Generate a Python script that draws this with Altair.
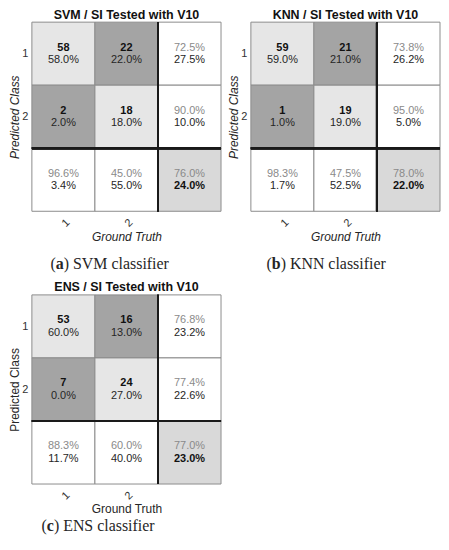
import altair as alt
import pandas as pd

classes = ["1", "2"]
titles = ["SVM / SI Tested with V10", "KNN / SI Tested with V10", "ENS / SI Tested with V10"]
captions = [("a", ") SVM classifier"), ("b", ") KNN classifier"), ("c", ") ENS classifier")]

svm_counts = [[58, 22], [2, 18]]
svm_pcts = [[58.0, 22.0], [2.0, 18.0]]
svm_rows = [[72.5, 27.5], [90.0, 10.0]]
svm_cols = [[96.6, 3.4], [45.0, 55.0]]
svm_total = [76.0, 24.0]

knn_counts = [[59, 21], [1, 19]]
knn_pcts = [[59.0, 21.0], [1.0, 19.0]]
knn_rows = [[73.8, 26.2], [95.0, 5.0]]
knn_cols = [[98.3, 1.7], [47.5, 52.5]]
knn_total = [78.0, 22.0]

ens_counts = [[53, 16], [7, 24]]
ens_pcts = [[60.0, 13.0], [0.0, 27.0]]
ens_rows = [[76.8, 23.2], [77.4, 22.6]]
ens_cols = [[88.3, 11.7], [60.0, 40.0]]
ens_total = [77.0, 23.0]

LIGHT = "#e6e6e6"
DARK = "#a4a4a4"
TOTAL = "#d9d9d9"
GRID = "#8c8c8c"
TXT = "#262626"
GRAY = "#8a8a8a"
SANS = "Liberation Sans"
SERIF = "Liberation Serif"
W = 190


def fmt(v):
    return f"{v:.1f}%"


def panel(title, counts, pcts, rows, cols, total, italic, cap, cap_x, cap_y, cap_w):
    n = len(classes)
    cells, texts = [], []
    for r in range(n):
        for c in range(n):
            cells.append(dict(row=r, col=c, fill=LIGHT if r == c else DARK))
            texts.append(dict(row=r, col=c, line=0, text=str(counts[r][c]), style="bd"))
            texts.append(dict(row=r, col=c, line=1, text=fmt(pcts[r][c]), style="nd"))
        cells.append(dict(row=r, col=n, fill="#ffffff"))
        texts.append(dict(row=r, col=n, line=0, text=fmt(rows[r][0]), style="ng"))
        texts.append(dict(row=r, col=n, line=1, text=fmt(rows[r][1]), style="nd"))
    for c in range(n):
        cells.append(dict(row=n, col=c, fill="#ffffff"))
        texts.append(dict(row=n, col=c, line=0, text=fmt(cols[c][0]), style="ng"))
        texts.append(dict(row=n, col=c, line=1, text=fmt(cols[c][1]), style="nd"))
    cells.append(dict(row=n, col=n, fill=TOTAL))
    texts.append(dict(row=n, col=n, line=0, text=fmt(total[0]), style="ng"))
    texts.append(dict(row=n, col=n, line=1, text=fmt(total[1]), style="bd"))

    cdf = pd.DataFrame(cells)
    tdf = pd.DataFrame(texts)
    fstyle = "italic" if italic else "normal"
    label_expr = " : ".join(
        f"datum.value == {i + 0.5} ? '{cl}'" for i, cl in enumerate(classes)
    ) + " : ''"
    xs = alt.Scale(domain=[0, n + 1], nice=False, zero=False)
    ys = alt.Scale(domain=[0, n + 1], nice=False, zero=False, reverse=True)
    xaxis = alt.Axis(values=[i + 0.5 for i in range(n)], labelExpr=label_expr,
                     title="Ground Truth", ticks=False, domain=False, grid=False,
                     labelAngle=315, labelFontSize=11, labelColor="#333333",
                     labelPadding=5, titleFontSize=12, titleFontWeight="normal",
                     titleFontStyle=fstyle, titleColor=TXT, titlePadding=3,
                     labelFont=SANS, titleFont=SANS)
    yaxis = alt.Axis(values=[i + 0.5 for i in range(n)], labelExpr=label_expr,
                     title="Predicted Class", ticks=False, domain=False, grid=False,
                     labelAngle=0, labelFontSize=11, labelColor="#333333",
                     labelPadding=4, titleFontSize=12, titleFontWeight="normal",
                     titleFontStyle=fstyle, titleColor=TXT, titlePadding=0,
                     labelFont=SANS, titleFont=SANS)

    rect = alt.Chart(cdf).transform_calculate(
        c1="datum.col + 1", r1="datum.row + 1"
    ).mark_rect(stroke=GRID, strokeWidth=1).encode(
        x=alt.X("col:Q", scale=xs, axis=xaxis),
        x2="c1:Q",
        y=alt.Y("row:Q", scale=ys, axis=yaxis),
        y2="r1:Q",
        color=alt.Color("fill:N", scale=None),
    )
    vrule = alt.Chart(cdf).mark_rule(color="#1a1a1a", strokeWidth=2).encode(x=alt.datum(n))
    hrule = alt.Chart(cdf).mark_rule(color="#1a1a1a", strokeWidth=2).encode(y=alt.datum(n))

    base_t = alt.Chart(tdf).transform_calculate(
        tx="datum.col + 0.5",
        ty="datum.row + 0.5 + (datum.line == 0 ? -0.095 : 0.1)",
    )
    layers = [rect, vrule, hrule]
    for style, weight, color in [("bd", "bold", "#111111"), ("nd", "normal", TXT), ("ng", "normal", GRAY)]:
        layers.append(
            base_t.transform_filter(f"datum.style == '{style}'").mark_text(
                font=SANS, fontSize=11, fontWeight=weight, color=color, baseline="middle"
            ).encode(x="tx:Q", y="ty:Q", text="text:N")
        )
    one = alt.Data(values=[{"k": 1}])
    layers.append(alt.Chart(one).mark_text(text="(", font=SERIF, fontSize=16, align="right",
                                           baseline="middle", color=TXT)
                  .encode(x=alt.value(cap_x), y=alt.value(cap_y)))
    layers.append(alt.Chart(one).mark_text(text=cap[0], font=SERIF, fontSize=16, align="left",
                                           fontWeight="bold", baseline="middle", color=TXT)
                  .encode(x=alt.value(cap_x), y=alt.value(cap_y)))
    layers.append(alt.Chart(one).mark_text(text=cap[1], font=SERIF, fontSize=16, align="left",
                                           baseline="middle", color=TXT)
                  .encode(x=alt.value(cap_x + cap_w), y=alt.value(cap_y)))

    return alt.layer(*layers).properties(
        width=W, height=W,
        title=alt.TitleParams(title, font=SANS, fontSize=12.5, fontWeight="bold",
                              color="#111111", offset=0),
    )


a = panel(titles[0], svm_counts, svm_pcts, svm_rows, svm_cols, svm_total, True,
          captions[0], 24, 243, 8)
b = panel(titles[1], knn_counts, knn_pcts, knn_rows, knn_cols, knn_total, True,
          captions[1], 21, 243, 8.9)
c = panel(titles[2], ens_counts, ens_pcts, ens_rows, ens_cols, ens_total, False,
          captions[2], 15, 232, 7.1)

chart = alt.vconcat(
    alt.hconcat(a, b, spacing=5),
    c,
    spacing=9,
).properties(
    padding={"left": 0, "top": -1, "right": 0, "bottom": 0}
).configure_view(stroke=None)

chart.save("out.html", embed_options={"renderer": "svg", "actions": False})
